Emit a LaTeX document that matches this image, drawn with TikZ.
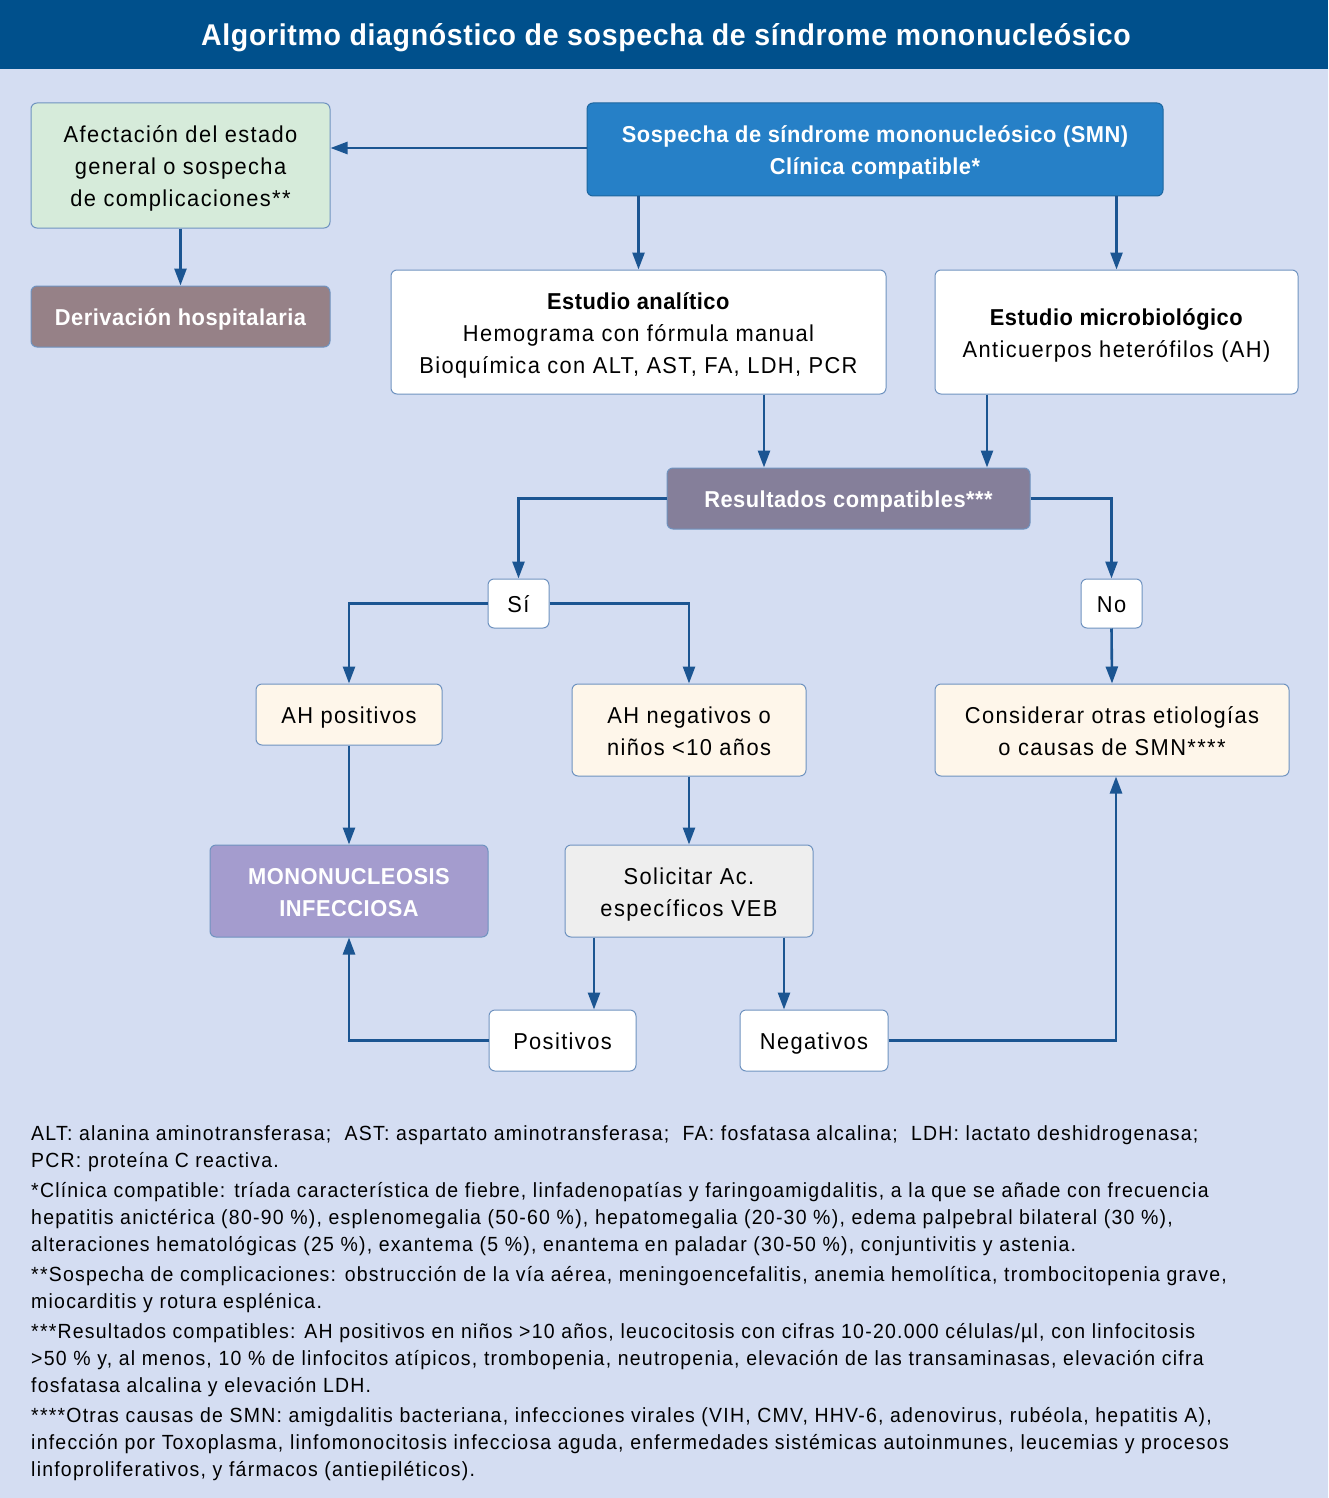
\documentclass[tikz,border=0pt]{standalone}
\usepackage{fontspec}
\setmainfont{Liberation Sans}[FakeStretch=0.95, LetterSpace=6,
  BoldFeatures={LetterSpace=2.2}]
\usetikzlibrary{arrows.meta}

\definecolor{titlebar}{HTML}{00508C}
\definecolor{bgblue}{HTML}{D4DDF2}
\definecolor{boxline}{HTML}{6F93C0}
\definecolor{arrowblue}{HTML}{1B5592}
\definecolor{greenbox}{HTML}{D6EBDA}
\definecolor{mauvebox}{HTML}{968187}
\definecolor{smnblue}{HTML}{2680C7}
\definecolor{resultbox}{HTML}{857F9A}
\definecolor{monobox}{HTML}{A49CCE}
\definecolor{creambox}{HTML}{FEF6EA}
\definecolor{graybox}{HTML}{EEEEEE}

\newcommand{\topstrut}{\rule{0pt}{26pt}}

\tikzset{
  box/.style={draw=boxline, line width=1pt, rounded corners=6pt, align=center,
    inner sep=0pt, font=\fontsize{23}{32}\selectfont,
    execute at begin node={\rule{0pt}{24pt}},
    execute at end node={\rule[-7pt]{0pt}{7pt}}},
  darkbox/.style={box, text=white, font=\fontsize{23}{32}\selectfont\bfseries},
  arr/.style={draw=arrowblue, line width=2.6pt, -{Triangle[length=17pt,width=12pt]}},
  note/.style={anchor=north west, inner sep=0pt, align=left,
    font=\fontsize{20.5}{27}\selectfont}
}

\begin{document}
\begin{tikzpicture}[x=1pt,y=-1pt]
\fill[bgblue] (0,0) rectangle (1328,1498);
\fill[titlebar] (0,0) rectangle (1328,69);
\node[text=white, font=\fontsize{30}{36}\selectfont\bfseries] (title) at (666,38)
  {Algoritmo diagnóstico de sospecha de síndrome mononucleósico};

% top row
\node[box, fill=greenbox, minimum width=299, minimum height=125] (afect) at (180.5,165.5)
  {\topstrut Afectación del estado\\general o sospecha\\de complicaciones**};
\node[darkbox, fill=mauvebox, minimum width=299, minimum height=61] (deriv) at (180.5,316.5)
  {Derivación hospitalaria};
\node[darkbox, fill=smnblue, draw=smnblue!80!black, minimum width=576, minimum height=93] (smn) at (875,149.5)
  {\topstrut Sospecha de síndrome mononucleósico (SMN)\\Clínica compatible*};

% estudios
\node[box, fill=white, minimum width=495, minimum height=124] (anal) at (638.5,332)
  {\topstrut\textbf{Estudio analítico}\\Hemograma con fórmula manual\\Bioquímica con ALT, AST, FA, LDH, PCR};
\node[box, fill=white, minimum width=363, minimum height=124] (micro) at (1116.5,332)
  {\topstrut\textbf{Estudio microbiológico}\\Anticuerpos heterófilos (AH)};
\node[darkbox, fill=resultbox, minimum width=363, minimum height=61] (result) at (848.5,498.5)
  {Resultados compatibles***};

% si / no
\node[box, fill=white, minimum width=61, minimum height=49] (si) at (518.5,603.5) {Sí};
\node[box, fill=white, minimum width=61, minimum height=49] (no) at (1111.5,603.5) {No};
\node[box, fill=creambox, minimum width=186, minimum height=61] (ahpos) at (349,714.5) {AH positivos};
\node[box, fill=creambox, minimum width=234, minimum height=92] (ahneg) at (689,730)
  {\topstrut AH negativos o\\niños <10 años};
\node[box, fill=creambox, minimum width=354, minimum height=92] (consid) at (1112,730)
  {\topstrut Considerar otras etiologías\\o causas de SMN****};

% bottom
\node[darkbox, fill=monobox, minimum width=278, minimum height=92] (mono) at (349,891)
  {\topstrut MONONUCLEOSIS\\INFECCIOSA};
\node[box, fill=graybox, minimum width=248, minimum height=92] (solic) at (689,891)
  {\topstrut Solicitar Ac.\\específicos VEB};
\node[box, fill=white, minimum width=147, minimum height=61] (posit) at (562.5,1040.5) {Positivos};
\node[box, fill=white, minimum width=148, minimum height=61] (negat) at (814,1040.5) {Negativos};

% connectors
\draw[arr] (smn.west |- 0,148) -- (afect.east |- 0,148);
\draw[arr] (afect.south) -- (deriv.north);
\draw[arr] (smn.south -| anal.north) -- (anal.north);
\draw[arr] (smn.south -| micro.north) -- (micro.north);
\draw[arr] (anal.south -| 764,0) -- (result.north -| 764,0);
\draw[arr] (micro.south -| 987,0) -- (result.north -| 987,0);
\draw[arr] (result.west) -| (si.north);
\draw[arr] (result.east) -| (no.north);
\draw[arr] (si.west) -| (ahpos.north);
\draw[arr] (si.east) -| (ahneg.north);
\draw[arr] (no.south) -- (consid.north);
\draw[arr] (ahpos.south) -- (mono.north);
\draw[arr] (ahneg.south) -- (solic.north);
\draw[arr] (solic.south -| 594,0) -- (posit.north -| 594,0);
\draw[arr] (solic.south -| 784,0) -- (negat.north -| 784,0);
\draw[arr] (posit.west) -| (mono.south);
\draw[arr] (negat.east) -| (consid.south -| 1116,0);

% notes
\node[note] (note1) at (31,1125)
  {ALT: alanina aminotransferasa;\ \ AST: aspartato aminotransferasa;\ \ FA: fosfatasa alcalina;\ \ LDH: lactato deshidrogenasa;\\
   PCR: proteína C reactiva.};
\node[note] (note2) at (31,1182)
  {*Clínica compatible: tríada característica de fiebre, linfadenopatías y faringoamigdalitis, a la que se añade con frecuencia\\
   hepatitis anictérica (80-90 \%), esplenomegalia (50-60 \%), hepatomegalia (20-30 \%), edema palpebral bilateral (30 \%),\\
   alteraciones hematológicas (25 \%), exantema (5 \%), enantema en paladar (30-50 \%), conjuntivitis y astenia.};
\node[note] (note3) at (31,1266)
  {**Sospecha de complicaciones: obstrucción de la vía aérea, meningoencefalitis, anemia hemolítica, trombocitopenia grave,\\
   miocarditis y rotura esplénica.};
\node[note] (note4) at (31,1323)
  {***Resultados compatibles: AH positivos en niños >10 años, leucocitosis con cifras 10-20.000 células/µl, con linfocitosis\\
   >50 \% y, al menos, 10 \% de linfocitos atípicos, trombopenia, neutropenia, elevación de las transaminasas, elevación cifra\\
   fosfatasa alcalina y elevación LDH.};
\node[note] (note5) at (31,1407)
  {****Otras causas de SMN: amigdalitis bacteriana, infecciones virales (VIH, CMV, HHV-6, adenovirus, rubéola, hepatitis A),\\
   infección por Toxoplasma, linfomonocitosis infecciosa aguda, enfermedades sistémicas autoinmunes, leucemias y procesos\\
   linfoproliferativos, y fármacos (antiepiléticos).};
\end{tikzpicture}
\end{document}
